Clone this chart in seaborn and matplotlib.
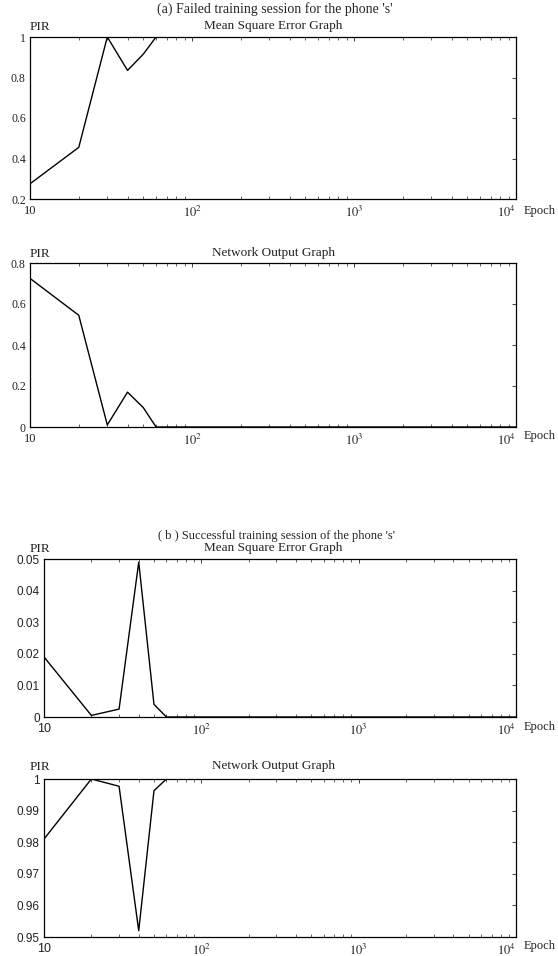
import matplotlib
matplotlib.use("Agg")
import matplotlib.pyplot as plt
import seaborn as sns
import pandas as pd
from matplotlib.ticker import LogLocator, NullFormatter, FixedLocator, FixedFormatter

sns.set_theme(style="white")
plt.rcParams['font.family'] = ['Liberation Serif', 'DejaVu Serif']
plt.rcParams['mathtext.fontset'] = 'stix'

epochs = [10, 20, 30, 40, 50, 60, 10000]
mse_failed = [0.275, 0.455, 1.0, 0.835, 0.915, 1.0, 1.0]
out_failed = [0.725, 0.545, 0.01, 0.17, 0.095, 0.0, 0.0]
mse_success = [0.019, 0.0005, 0.0025, 0.049, 0.004, 0.0, 0.0]
out_success = [0.981, 1.0, 0.9977, 0.952, 0.9963, 1.0, 1.0]

W, H = 558, 956
fig = plt.figure(figsize=(W/100, H/100), dpi=100)

def ax_at(l, t, r, b):
    return fig.add_axes([l/W, 1 - b/H, (r-l)/W, (b-t)/H])

panels = [
    (30, 37, 516, 199, mse_failed, (0.2, 1.0), [0.2, 0.4, 0.6, 0.8, 1.0], ['0.2', '0.4', '0.6', '0.8', '1'], 'Mean Square Error Graph', 26, 211),
    (30, 263, 516, 427, out_failed, (0.0, 0.8), [0, 0.2, 0.4, 0.6, 0.8], ['0', '0.2', '0.4', '0.6', '0.8'], 'Network Output Graph', 253, 436),
    (44, 559, 516, 717, mse_success, (0.0, 0.05), [0, 0.01, 0.02, 0.03, 0.04, 0.05], ['0', '0.01', '0.02', '0.03', '0.04', '0.05'], 'Mean Square Error Graph', 548, 727),
    (44, 779, 516, 937, out_success, (0.95, 1.0), [0.95, 0.96, 0.97, 0.98, 0.99, 1.0], ['0.95', '0.96', '0.97', '0.98', '0.99', '1'], 'Network Output Graph', 766, 946),
]

for i, (l, t, r, b, vals, ylim, yt, ytl, sub, suby, epy) in enumerate(panels):
    ax = ax_at(l, t, r, b)
    df = pd.DataFrame({'Epoch': epochs, 'PIR': vals})
    sns.lineplot(data=df, x='Epoch', y='PIR', ax=ax, color='black', linewidth=1.0)
    ax.set_xscale('log')
    ax.set_xlim(10, 10000)
    ax.set_ylim(*ylim)
    ax.set_xlabel('')
    ax.set_ylabel('')
    ax.set_facecolor('white')
    for s in ax.spines.values():
        s.set_color('black')
        s.set_linewidth(0.9)
        s.set_visible(True)
    ax.xaxis.set_major_locator(FixedLocator([10, 100, 1000, 10000]))
    ax.xaxis.set_major_formatter(FixedFormatter(['10', r'$10^{2}$', r'$10^{3}$', r'$10^{4}$']))
    ax.xaxis.set_minor_locator(LogLocator(base=10, subs=range(2, 10)))
    ax.xaxis.set_minor_formatter(NullFormatter())
    ax.yaxis.set_major_locator(FixedLocator(yt))
    ax.yaxis.set_major_formatter(FixedFormatter(ytl))
    sans = i >= 2
    tfam = ['Liberation Sans', 'DejaVu Sans'] if sans else ['Liberation Serif', 'DejaVu Serif']
    ax.tick_params(axis='both', which='major', direction='in', length=3, width=0.6,
                   top=True, right=True, labelsize=8.5, colors='#222222', pad=3)
    ax.tick_params(axis='x', which='major', pad=4, labelsize=9)
    ax.tick_params(axis='x', which='minor', direction='in', length=2, width=0.5, top=True, bottom=True)
    for lab in ax.get_xticklabels() + ax.get_yticklabels():
        lab.set_family(tfam)
    xl = ax.get_xticklabels()
    xl[-1].set_horizontalalignment('right')
    fig.text(524/W, 1 - epy/H, 'Epoch', ha='left', va='center', fontsize=9, color='#222222')
    fig.text(273/W, 1 - suby/H, sub, ha='center', va='center', fontsize=9.5, color='#222222')
    fig.text(30/W, 1 - (suby + 1)/H, 'PIR', ha='left', va='center', fontsize=9.5, color='#222222')

fig.text(275/W, 1 - 9/H, "(a) Failed training session for the phone 's'", ha='center', va='center', fontsize=10)
fig.text(277/W, 1 - 536/H, "( b ) Successful training session of the phone 's'", ha='center', va='center', fontsize=9)

fig.savefig('out.png', dpi=100, facecolor='white')
